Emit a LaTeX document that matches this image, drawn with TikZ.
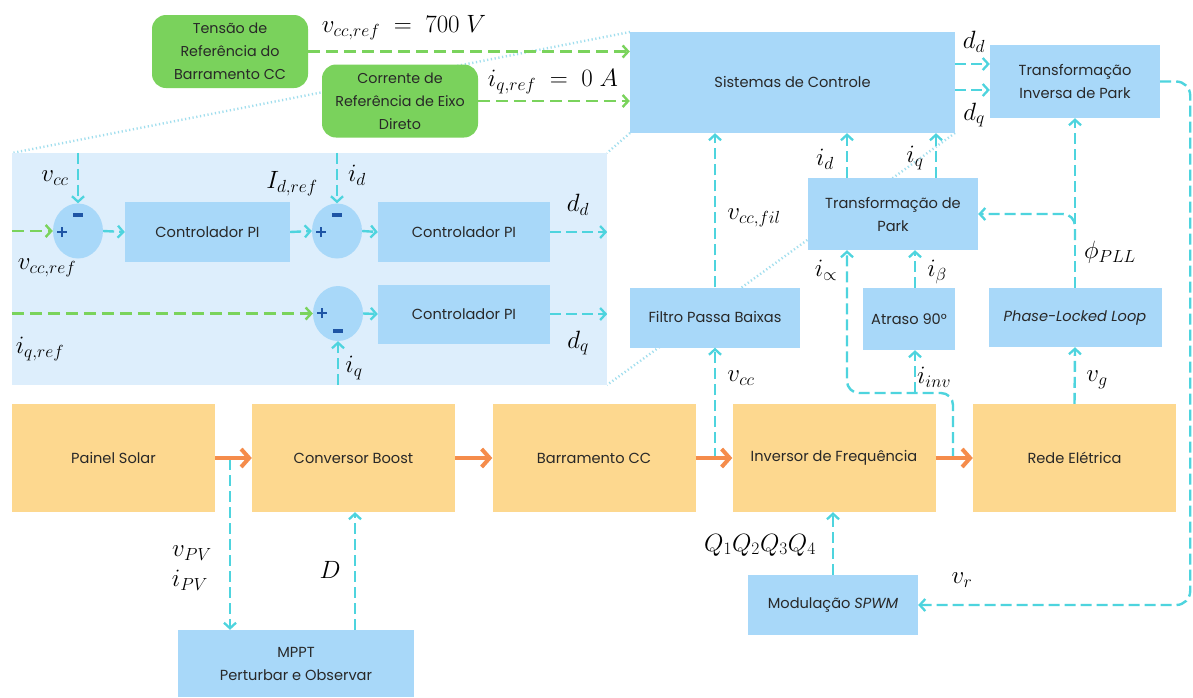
\RequirePackage{fix-cm}
\documentclass[tikz,border=0pt]{standalone}
\usepackage{fontspec}
\setmainfont{Poppins}
\usetikzlibrary{arrows.meta,shapes.geometric,calc}
\definecolor{boxblue}{RGB}{168,216,249}
\definecolor{insetblue}{RGB}{221,238,252}
\definecolor{orbox}{RGB}{253,216,143}
\definecolor{grbox}{RGB}{122,210,92}
\definecolor{cyarr}{RGB}{78,212,222}
\definecolor{grarr}{RGB}{122,211,92}
\definecolor{ororr}{RGB}{245,140,75}
\definecolor{sgn}{RGB}{30,85,165}
\definecolor{txt}{RGB}{40,40,40}
\definecolor{dots}{RGB}{160,222,238}
\newcommand{\mysumplus}{\textcolor{sgn}{\rlap{\rule[3.6pt]{10pt}{2.8pt}}\hspace{3.6pt}\rule{2.8pt}{10pt}\hspace{3.6pt}}}
\begin{document}
\begin{tikzpicture}[x=1pt,y=-1pt,
  bodyfont/.style={font=\fontsize{14.6}{23}\selectfont, text=txt},
  bbox/.style={rectangle, fill=boxblue, draw=none, align=center, bodyfont, inner sep=2pt},
  obox/.style={rectangle, fill=orbox, draw=none, align=center, bodyfont, minimum width=203, minimum height=108},
  gbox/.style={rectangle, rounded corners=14, fill=grbox, draw=none, align=center, font=\fontsize{14.3}{23}\selectfont, text=txt, minimum width=156, minimum height=73, inner sep=1pt},
  sumnode/.style={ellipse, fill=boxblue, draw=none, minimum width=50, minimum height=55, inner sep=0},
  carr/.style={draw=cyarr, line width=2.4pt, dash pattern=on 11pt off 5pt, -{Straight Barb[length=5.5pt,width=12pt,line width=2.3pt]}},
  garr/.style={draw=grarr, line width=2.6pt, dash pattern=on 12pt off 6pt, -{Straight Barb[length=5.5pt,width=12pt,line width=2.4pt]}},
  oarr/.style={draw=ororr, line width=4.5pt, -{Straight Barb[length=8pt,width=18pt,line width=4pt]}},
  dotl/.style={draw=dots, line width=2.4pt, dash pattern=on 1.2pt off 2.6pt},
  lab/.style={font=\fontsize{25}{28}\selectfont, inner sep=0, text=black},
  sgnp/.style={inner sep=0},
]
\useasboundingbox (0,0) rectangle (1193,697);
\fill[white] (0,0) rectangle (1193,697);

% dotted projection lines
\coordinate (sisnw) at (630,32);
\coordinate (sissw) at (630,133);
\coordinate (sisse) at (955,133);
\coordinate (insnw) at (12,153);
\coordinate (insne) at (607,153);
\coordinate (insse) at (607,385);
\draw[dotl] (sisnw) -- (insnw);
\draw[dotl] (sissw) -- (insne);
\draw[dotl] (sisse) -- (insse);

% top
\node[gbox] (g1) at (230,51.5) {Tensão de\\Referência do\\Barramento CC};
\node[gbox] (g2) at (400,101) {Corrente de\\Referência de Eixo\\Direto};
\node[bbox, minimum width=325, minimum height=101] (sis) at (792.5,82.5) {Sistemas de Controle};
\node[bbox, minimum width=170, minimum height=73] (ipark) at (1075,81.5) {Transformação\\Inversa de Park};

% inset
\node[rectangle, fill=insetblue, minimum width=595, minimum height=232, inner sep=0] (ins) at (309.5,269) {};
\node[sumnode] (s1) at (78,231) {};
\node[bbox, minimum width=165, minimum height=60] (pi1) at (207.5,232) {Controlador PI};
\node[sumnode] (s2) at (337,231) {};
\node[bbox, minimum width=172, minimum height=60] (pi2) at (464,232) {Controlador PI};
\node[sumnode] (s3) at (338,313.5) {};
\node[bbox, minimum width=172, minimum height=59] (pi3) at (464,314) {Controlador PI};
\node[sgnp] (p1) at (62,232) {\mysumplus};
\node[fill=sgn, minimum width=10, minimum height=3.2, inner sep=0] (m1) at (78,215) {};
\node[sgnp] (p2) at (321,232) {\mysumplus};
\node[fill=sgn, minimum width=10, minimum height=3.2, inner sep=0] (m2) at (337,215) {};
\node[sgnp] (p3) at (322,313) {\mysumplus};
\node[fill=sgn, minimum width=10, minimum height=3.2, inner sep=0] (m3) at (338,331) {};

\draw[carr] (s1 |- ins.north) -- (s1.north);
\draw[garr] (ins.west |- s1) -- (s1.west);
\draw[carr] (s1.east) -- (pi1.west);
\draw[carr] (pi1.east) -- (s2.west);
\draw[carr] (s2 |- ins.north) -- (s2.north);
\draw[carr] (s2.east) -- (pi2.west);
\draw[carr] (pi2.east) -- (ins.east |- pi2);
\draw[garr] (ins.west |- s3) -- (s3.west);
\draw[carr] (s3 |- ins.south) -- (s3.south);
\draw[carr] (s3.east) -- (pi3.west);
\draw[carr] (pi3.east) -- (ins.east |- pi3);

\node[lab] (lvcc1) at (55,178) {$v_{cc}$};
\node[lab] (lidref) at (292,184) {$I_{d,ref}$};
\node[lab] (lid1) at (357,175) {$i_d$};
\node[lab] (ldd1) at (578,205) {$d_d$};
\node[lab] (lvccref1) at (47,268) {$v_{cc,ref}$};
\node[lab] (liqref1) at (40,349) {$i_{q,ref}$};
\node[lab] (ldq1) at (578,343) {$d_q$};
\node[lab] (liq1) at (354,368) {$i_q$};

% middle right
\node[bbox, minimum width=170, minimum height=60] (filt) at (715,317.5) {Filtro Passa Baixas};
\node[bbox, minimum width=170, minimum height=72] (park) at (893,214) {Transformação de\\Park};
\node[bbox, minimum width=92, minimum height=62] (atr) at (909,319) {Atraso 90°};
\node[bbox, minimum width=173, minimum height=59] (pll) at (1075,317.5) {\itshape Phase-Locked Loop};

% bottom row
\node[obox] (solar) at (113.5,458) {Painel Solar};
\node[obox] (boost) at (353.5,458) {Conversor Boost};
\node[obox] (bar) at (594,458) {Barramento CC};
\node[obox] (inv) at (834,458) {Inversor de Frequência};
\node[obox] (rede) at (1074.5,458) {Rede Elétrica};
\node[bbox, minimum width=236, minimum height=67] (mppt) at (296,663.5) {MPPT\\Perturbar e Observar};
\node[bbox, minimum width=170, minimum height=60] (spwm) at (833,605) {Modulação \textit{SPWM}};

% green reference arrows
\draw[garr] (g1.east) -- (sis.west |- g1.east);
\draw[garr] (g2.east) -- (sis.west |- g2.east);
\node[lab] (lvccref) at (404,28) {$v_{cc,ref}\ =\ 700\ V$};
\node[lab] (liqref) at (553,82) {$i_{q,ref}\ =\ 0\ A$};

% sis -> inverse park
\draw[carr] (sis.east |- 0,64) -- (ipark.west |- 0,64);
\draw[carr] (sis.east |- 0,90) -- (ipark.west |- 0,90);
\node[lab] (ldd) at (974,42) {$d_d$};
\node[lab] (ldq) at (974,115) {$d_q$};

% filter
\coordinate (jv) at (715,459);
\draw[carr] (jv) -- (filt.south);
\draw[carr] (filt.north) -- (filt |- sis.south);
\node[lab] (lvcc) at (741,378) {$v_{cc}$};
\node[lab] (lvccfil) at (754,218) {$v_{cc,fil}$};

% park
\coordinate (xd) at (847,0);
\coordinate (xq) at (936,0);
\draw[carr] (xd |- park.north) -- (xd |- sis.south);
\draw[carr] (xq |- park.north) -- (xq |- sis.south);
\node[lab] (lid) at (825,159) {$i_d$};
\node[lab] (liq) at (915,158) {$i_q$};

\coordinate (jinv) at (953,459);
\coordinate (jb) at (915,393);
\draw[carr, rounded corners=12] (jinv) -- (953,393) -- (847,393) -- (xd |- park.south);
\draw[carr] (jb) -- (jb |- atr.south);
\draw[carr] (jb |- atr.north) -- (jb |- park.south);
\node[lab] (lia) at (826,270) {$i_\propto$};
\node[lab] (lib) at (937,272) {$i_\beta$};
\node[lab] (liinv) at (934,377) {$i_{inv}$};

% PLL
\coordinate (jp) at (1075,240);
\draw[carr] (pll.north) -- (ipark.south);
\draw[carr, rounded corners=12] (jp) |- (park.east);
\draw[carr] (rede.north) -- (pll.south);
\node[lab] (lphi) at (1110,252) {$\phi_{PLL}$};
\node[lab] (lvg) at (1097,380) {$v_g$};

% feedback to SPWM
\draw[carr, rounded corners=14] (ipark.east) -- ++(30,0) |- (spwm.east);
\node[lab] (lvr) at (962,580) {$v_r$};
\draw[carr] (spwm.north) -- (spwm.north |- inv.south);
\node[lab] (lq) at (760,545) {$Q_1Q_2Q_3Q_4$};

% MPPT
\coordinate (jpv) at (230,459);
\coordinate (xD) at (355,0);
\draw[carr] (jpv) -- (jpv |- mppt.north);
\draw[carr] (xD |- mppt.north) -- (xD |- boost.south);
\node[lab] (lvpv) at (192,553) {$v_{PV}$};
\node[lab] (lipv) at (190,580) {$i_{PV}$};
\node[lab] (lD) at (330,570) {$D$};

% power flow
\draw[oarr] (solar.east) -- (boost.west);
\draw[oarr] (boost.east) -- (bar.west);
\draw[oarr] (bar.east) -- (inv.west);
\draw[oarr] (inv.east) -- (rede.west);
\end{tikzpicture}
\end{document}
